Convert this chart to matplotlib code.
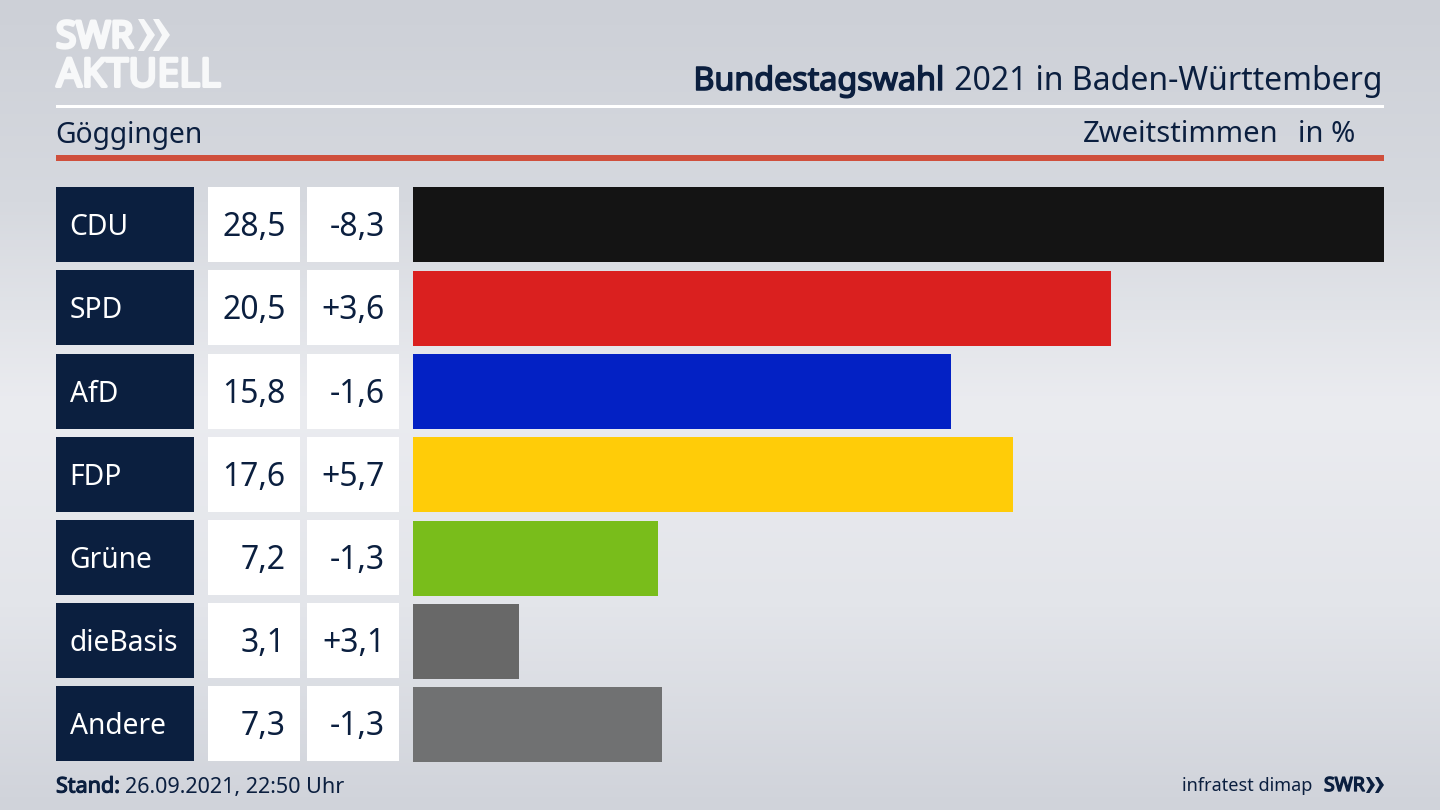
import numpy as np
import matplotlib
matplotlib.use('Agg')
import matplotlib.pyplot as plt
import matplotlib.patheffects as pe
from matplotlib.patches import Rectangle, Polygon
from matplotlib.colors import LinearSegmentedColormap

parties = ['CDU', 'SPD', 'AfD', 'FDP', 'Grüne', 'dieBasis', 'Andere']
shares = [28.5, 20.5, 15.8, 17.6, 7.2, 3.1, 7.3]
changes = ['-8,3', '+3,6', '-1,6', '+5,7', '-1,3', '+3,1', '-1,3']
bar_colors = ['#141414', '#da201f', '#0321c4', '#ffcc08', '#79bd1b', '#686868', '#707172']

NAVY = '#0b1f3f'
LOGO = '#f7f8f9'
plt.rcParams['font.family'] = ['Noto Sans', 'DejaVu Sans']


def heavy(width, color):
    # Noto Sans only comes in one weight here, so thicken it with a stroke
    return [pe.withStroke(linewidth=width, foreground=color)]


fig = plt.figure(figsize=(14.4, 8.1), dpi=100)

# background, light band through the middle
bg = fig.add_axes([0, 0, 1, 1], zorder=0)
cmap = LinearSegmentedColormap.from_list('bg', ['#cdd0d7', '#d6d9df', '#ebecf0', '#e3e5ea', '#d0d3da'])
bg.imshow(np.linspace(0, 1, 256).reshape(-1, 1), aspect='auto', cmap=cmap, extent=(0, 1440, 810, 0))
bg.set_axis_off()

# overlay in pixel coordinates for header, cells and footer
ax = fig.add_axes([0, 0, 1, 1], zorder=1)
ax.set_xlim(0, 1440)
ax.set_ylim(810, 0)
ax.set_axis_off()
ax.patch.set_alpha(0)

ax.add_patch(Rectangle((56, 104.5), 1328, 3, color='white', lw=0))
ax.add_patch(Rectangle((56, 155), 1328, 5.5, color='#cf4f3c', lw=0))

# logo
ax.text(56, 38.5, 'SWR', color=LOGO, fontsize=26.5, va='center', ha='left', path_effects=heavy(2.5, LOGO))
ax.text(56.5, 76.5, 'AKTUELL', color=LOGO, fontsize=28.5, va='center', ha='left', path_effects=heavy(2.2, LOGO))
for dx in (0, 15):
    ax.add_patch(Polygon([(138 + dx, 19), (144 + dx, 19), (155 + dx, 35), (144 + dx, 51), (138 + dx, 51), (147 + dx, 35)],
                         closed=True, color=LOGO, lw=0))

# header
t = ax.text(1383, 81.5, ' 2021 in Baden-Württemberg', color=NAVY, fontsize=23, ha='right', va='center')
fig.canvas.draw()
box = t.get_window_extent()
ax.text(box.x0 - 2, 81.5, 'Bundestagswahl', color=NAVY, fontsize=23.2, ha='right', va='center',
        path_effects=heavy(1.1, NAVY))
ax.text(55.5, 135, 'Göggingen', color=NAVY, fontsize=20.3, ha='left', va='center')
ax.text(1278, 135, 'Zweitstimmen', color=NAVY, fontsize=21, ha='right', va='center')
ax.text(1355, 135, 'in %', color=NAVY, fontsize=21, ha='right', va='center')

# table cells next to the bars
pitch = 83.17
for i, (party, share, change) in enumerate(zip(parties, shares, changes)):
    top = 187.2 + i * pitch
    mid = top + 40.5
    ax.add_patch(Rectangle((56, top), 137.5, 75, color=NAVY, lw=0))
    ax.add_patch(Rectangle((208, top), 92, 75, color='white', lw=0))
    ax.add_patch(Rectangle((307, top), 92, 75, color='white', lw=0))
    ax.text(69.5, mid, party, color='white', fontsize=20.3, ha='left', va='center')
    ax.text(285.5, mid, f'{share:.1f}'.replace('.', ','), color=NAVY, fontsize=23, ha='right', va='center')
    ax.text(385, mid, change, color=NAVY, fontsize=23, ha='right', va='center')

# footer
t = ax.text(56, 787, 'Stand:', color=NAVY, fontsize=15.5, ha='left', va='center', path_effects=heavy(0.8, NAVY))
fig.canvas.draw()
box = t.get_window_extent()
ax.text(box.x1 + 5, 787, '26.09.2021, 22:50 Uhr', color=NAVY, fontsize=15.5, ha='left', va='center')
ax.text(1312, 786, 'infratest dimap', color=NAVY, fontsize=13, ha='right', va='center')
ax.text(1324, 786, 'SWR', color=NAVY, fontsize=14, ha='left', va='center', path_effects=heavy(1.0, NAVY))
for dx in (0, 9):
    ax.add_patch(Polygon([(1366 + dx, 777), (1369.5 + dx, 777), (1375 + dx, 785), (1369.5 + dx, 793), (1366 + dx, 793), (1370.5 + dx, 785)],
                         closed=True, color=NAVY, lw=0))

# bars
bar_ax = fig.add_axes([413 / 1440, 1 - 762.2 / 810, 971 / 1440, 575 / 810], zorder=2)
bar_ax.barh(range(len(parties)), shares, height=0.9, color=bar_colors, linewidth=0)
bar_ax.set_xlim(0, 28.5)
bar_ax.set_ylim(6.45, -0.45)
bar_ax.set_axis_off()
bar_ax.patch.set_alpha(0)

plt.savefig('out.png', dpi=100)
plt.close(fig)
